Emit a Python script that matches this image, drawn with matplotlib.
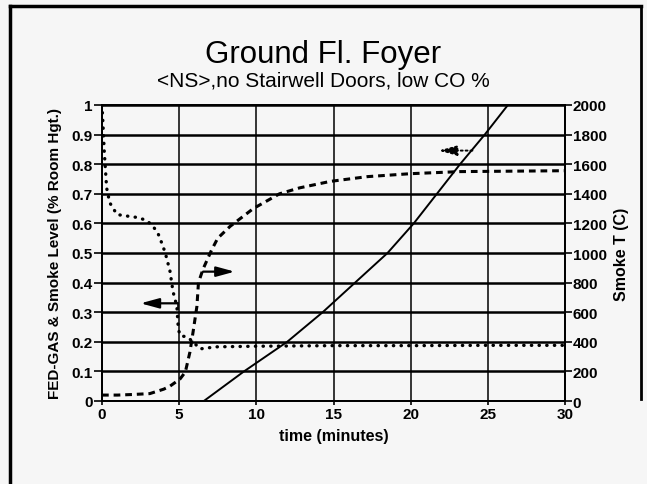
import matplotlib
matplotlib.use('Agg')
import matplotlib.pyplot as plt
from matplotlib.lines import Line2D

plt.rcParams['font.family'] = ['Liberation Sans', 'DejaVu Sans']

# FED-GAS / smoke level (left axis, fraction of room height)
t_fed = [0, 0.05, 0.15, 0.3, 0.5, 0.97, 1.6, 2.3, 2.9, 3.3, 3.6, 3.9, 4.1, 4.4,
         4.6, 4.85, 4.95, 5.1, 5.5, 5.9, 6.35, 7.4, 10, 15, 20, 25, 30]
fed = [1.0, 0.95, 0.84, 0.72, 0.67, 0.63, 0.625, 0.62, 0.61, 0.59, 0.57, 0.53, 0.50, 0.44,
       0.37, 0.32, 0.24, 0.22, 0.217, 0.20, 0.176, 0.183, 0.185, 0.187, 0.187, 0.188, 0.188]

# second level curve (dashed)
t_lvl = [0, 1, 2, 3.1, 4.0, 4.4, 5.05, 5.4, 5.7, 5.9, 6.15, 6.25, 6.55, 7.1, 7.5,
         8.3, 9.8, 11.5, 12.8, 14.8, 17.2, 20, 23.2, 30]
lvl = [0.02, 0.02, 0.022, 0.025, 0.04, 0.05, 0.074, 0.098, 0.166, 0.233, 0.32, 0.40, 0.446,
       0.51, 0.55, 0.59, 0.65, 0.70, 0.72, 0.742, 0.758, 0.768, 0.775, 0.778]

# smoke temperature (right axis, C)
t_temp = [0, 6.6, 9.2, 12.0, 14.3, 16.4, 18.5, 20.2, 21.7, 23.2, 24.8, 26.3]
temp = [0, 0, 200, 400, 600, 800, 1000, 1200, 1400, 1600, 1800, 2000]

x_ticks = [0, 5, 10, 15, 20, 25, 30]
y_ticks = [0, 0.1, 0.2, 0.3, 0.4, 0.5, 0.6, 0.7, 0.8, 0.9, 1]
y_labels = ['0', '0.1', '0.2', '0.3', '0.4', '0.5', '0.6', '0.7', '0.8', '0.9', '1']
t_ticks = [0, 200, 400, 600, 800, 1000, 1200, 1400, 1600, 1800, 2000]

bg = '#f6f6f6'
fig = plt.figure(figsize=(6.47, 4.85), dpi=100, facecolor=bg)

# page frame
fig.add_artist(Line2D([10 / 647, 10 / 647], [0, 1 - 7 / 485], color='black', lw=2.5))
fig.add_artist(Line2D([10 / 647, 641 / 647], [1 - 7 / 485, 1 - 7 / 485], color='black', lw=2.5))
fig.add_artist(Line2D([641 / 647, 641 / 647], [1 - 7 / 485, 1 - 400 / 485], color='black', lw=2))

ax = fig.add_axes([102 / 647, 83 / 485, 463 / 647, 296 / 485], facecolor=bg)
ax2 = ax.twinx()

ax.set_xlim(0, 30)
ax.set_ylim(0, 1)
ax2.set_ylim(0, 2000)

for y in y_ticks:
    ax.axhline(y, color='black', lw=1.8, zorder=1)
for x in x_ticks:
    ax.axvline(x, color='black', lw=1.1, zorder=1)

ax.plot(t_fed, fed, color='black', lw=2.4, linestyle=(0, (0.1, 2.2)),
        dash_capstyle='round', zorder=3)
ax.plot(t_lvl, lvl, color='black', lw=2.2, linestyle=(0, (2.2, 1.6)), zorder=3)
ax2.plot(t_temp, temp, color='black', lw=1.4, zorder=3)

# direction arrows
arrow = dict(arrowstyle='-|>,head_length=1.1,head_width=0.3', color='black', lw=1.6,
             shrinkA=0, shrinkB=0)
ax.annotate('', xy=(2.5, 0.33), xytext=(4.9, 0.33), arrowprops=arrow)
ax.plot([4.9, 4.9], [0.33, 0.31], color='black', lw=1.2)
ax.annotate('', xy=(8.6, 0.437), xytext=(6.55, 0.437), arrowprops=arrow)
ax2.annotate('', xy=(21.8, 1692), xytext=(24.0, 1692),
             arrowprops=dict(arrowstyle='-|>,head_length=1.1,head_width=0.3', color='black',
                             lw=1.4, linestyle=(0, (1, 1.5)), shrinkA=0, shrinkB=0))

tick_font = dict(fontweight='bold', fontsize=11)
ax.set_xticks(x_ticks)
ax.set_xticklabels([str(x) for x in x_ticks], **tick_font)
ax.set_yticks(y_ticks)
ax.set_yticklabels(y_labels, **tick_font)
ax2.set_yticks(t_ticks)
ax2.set_yticklabels([str(v) for v in t_ticks], **tick_font)

ax.tick_params(axis='y', direction='out', length=6, width=1.2, pad=0.5)
ax.tick_params(axis='x', direction='out', length=3, width=1.2, pad=1.5)
ax2.tick_params(axis='y', direction='out', length=5, width=1.2, pad=0.5)

for a in (ax, ax2):
    for s in a.spines.values():
        s.set_linewidth(1.3)

ax.set_xlabel('time (minutes)', fontweight='bold', fontsize=11.5, labelpad=5)
ax.set_ylabel('FED-GAS & Smoke Level (% Room Hgt.)', fontweight='bold', fontsize=11,
              labelpad=7)
ax2.set_ylabel('Smoke T (C)', fontweight='bold', fontsize=11.5, labelpad=5)

fig.text(0.5, 1 - 55 / 485, 'Ground Fl. Foyer', ha='center', va='center', fontsize=22.5)
fig.text(0.5, 1 - 81 / 485, '<NS>,no Stairwell Doors, low CO %', ha='center', va='center',
         fontsize=15)

fig.savefig('out.png', dpi=100, facecolor=bg)
plt.close(fig)
